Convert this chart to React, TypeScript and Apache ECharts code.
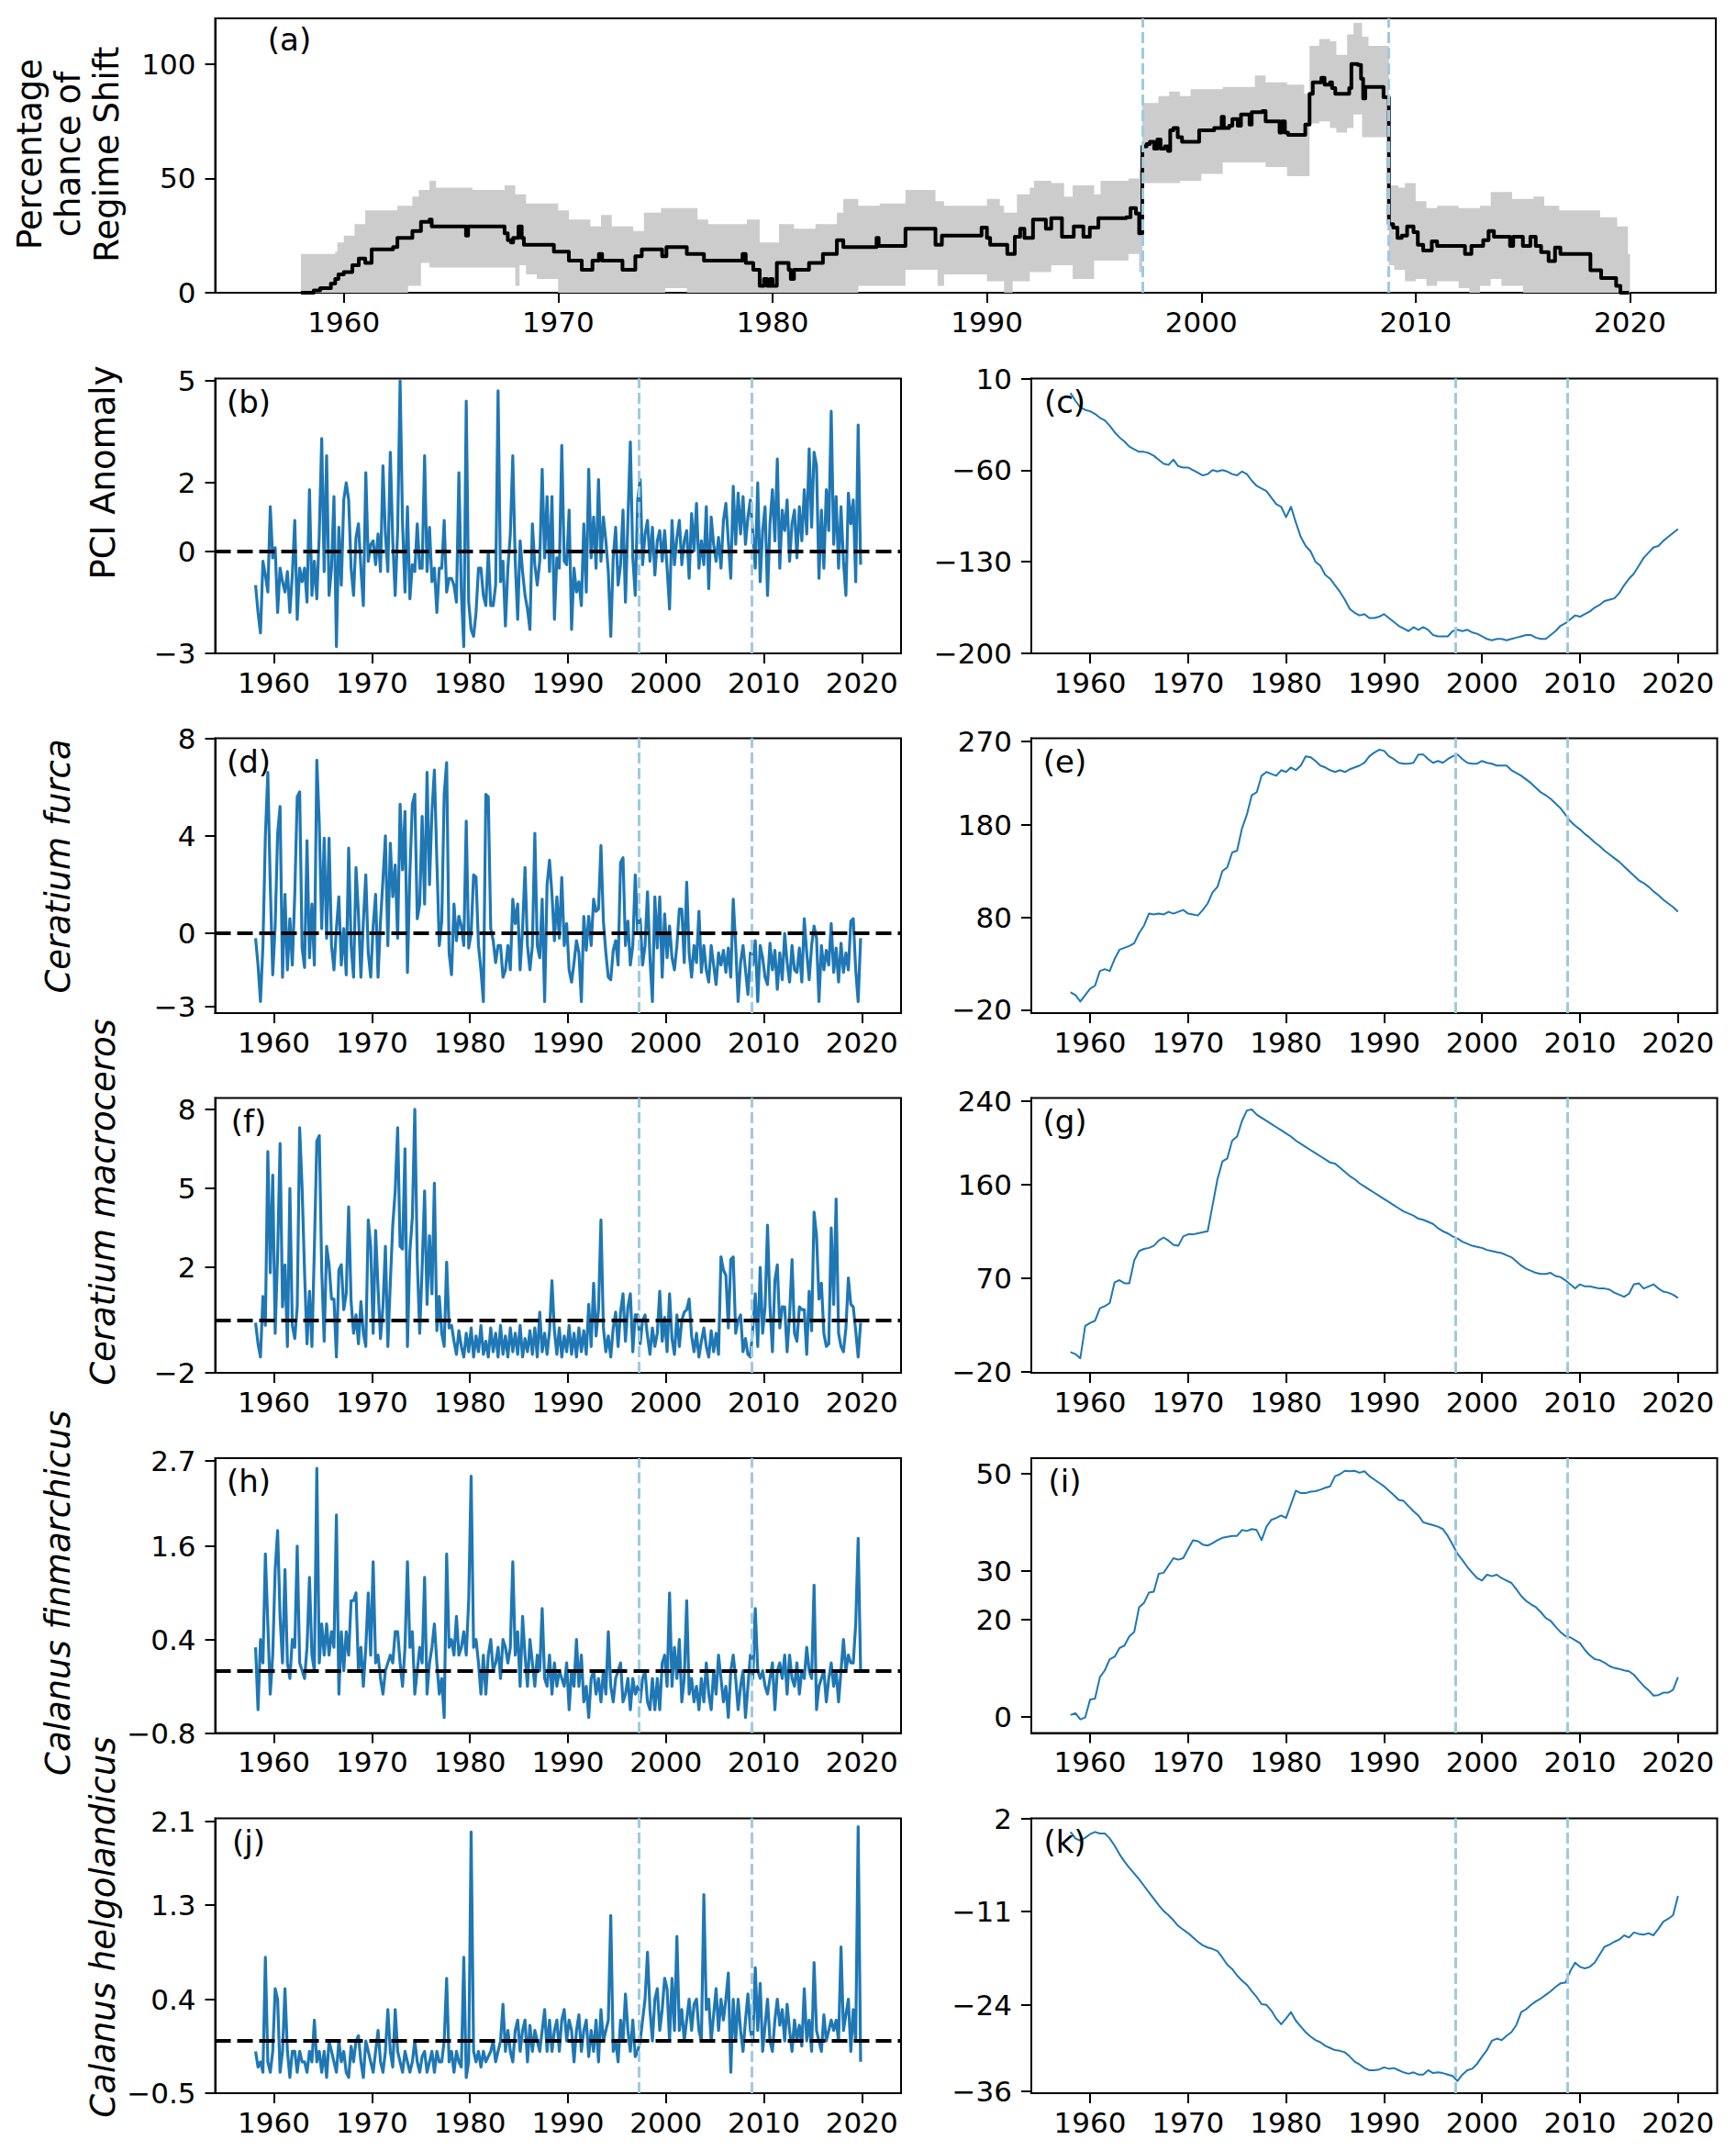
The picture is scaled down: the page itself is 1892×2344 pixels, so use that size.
import React, { useEffect, useRef } from "react";
import * as echarts from "echarts";

// ---------- shared ticks / markers ----------
const YEAR_TICKS = [1960, 1970, 1980, 1990, 2000, 2010, 2020];
const REGIME_SHIFTS = [1997.25, 2008.75];
const QUARTER_START = 1958.125;
const QUARTER_STEP = 0.25;
const HALF_START = 1958;
const HALF_STEP = 0.5;

// ---------- (a) percentage chance of regime shift: [year, value] change points ----------
const regimeShiftChance: [number, number][] = [
  [1958.0, 0], [1958.6, 1], [1958.9, 2], [1959.4, 4], [1959.6, 6], [1959.75, 8], [1960.0, 9], [1960.4, 12],
  [1960.7, 15], [1961.0, 13], [1961.3, 19], [1962.3, 20], [1962.5, 24], [1963.2, 27], [1963.6, 31], [1964.0, 32],
  [1964.1, 29], [1965.7, 25], [1965.8, 29], [1967.5, 26], [1967.65, 23], [1967.8, 22], [1967.9, 24], [1968.15, 29],
  [1968.3, 24], [1968.4, 21], [1969.8, 18], [1970.5, 14], [1971.1, 10], [1971.6, 14], [1971.9, 17], [1972.05, 14],
  [1973.0, 10], [1973.6, 16], [1973.9, 19], [1974.85, 16], [1975.05, 20], [1976.0, 17], [1976.8, 14], [1978.6, 17],
  [1978.75, 13], [1979.1, 10], [1979.4, 3], [1979.6, 6], [1979.75, 3], [1979.9, 6], [1980.0, 3], [1980.2, 13],
  [1980.75, 10], [1980.85, 6], [1981.0, 10], [1981.7, 13], [1982.35, 17], [1983.0, 23], [1983.3, 20], [1984.85, 24],
  [1984.95, 20.5], [1986.2, 28], [1987.6, 21], [1987.9, 25], [1989.75, 28.5], [1990.0, 24], [1990.15, 21], [1990.95, 17],
  [1991.3, 24.5], [1991.55, 28], [1991.75, 24], [1992.15, 32], [1992.75, 28], [1993.0, 32.6], [1993.5, 24.5], [1994.05, 29],
  [1994.5, 24.5], [1994.8, 28.5], [1995.2, 32.6], [1996.5, 33], [1996.7, 37], [1996.95, 34.6], [1997.1, 26], [1997.25, 64],
  [1997.45, 65], [1997.6, 66], [1997.8, 63], [1997.95, 67], [1998.1, 63], [1998.3, 64], [1998.45, 62], [1998.55, 71],
  [1998.7, 72], [1998.9, 68], [1999.1, 66], [1999.9, 71], [2000.6, 72], [2000.95, 77], [2001.05, 72], [2001.3, 73],
  [2001.45, 76], [2001.7, 73], [2001.85, 78], [2002.25, 73.5], [2002.35, 79], [2002.85, 79.5], [2003.0, 75], [2003.65, 70],
  [2003.75, 75], [2003.9, 70], [2004.05, 69], [2004.85, 73.5], [2005.05, 87], [2005.2, 92], [2005.6, 94], [2005.75, 91],
  [2006.0, 92], [2006.1, 89.5], [2006.25, 87], [2006.9, 89.5], [2007.0, 100], [2007.3, 99.6], [2007.45, 93.6], [2007.55, 85],
  [2007.65, 90], [2008.5, 85.5], [2008.75, 30], [2008.95, 28.5], [2009.15, 24], [2009.35, 25], [2009.6, 29], [2009.9, 26.5],
  [2010.1, 21], [2010.35, 18.5], [2010.75, 22.5], [2011.0, 20.5], [2012.3, 17], [2012.6, 20.5], [2013.15, 23], [2013.4, 27],
  [2013.65, 24.5], [2014.4, 20.5], [2014.55, 24.5], [2015.0, 20.5], [2015.35, 24.5], [2015.6, 20.5], [2015.85, 17.8], [2016.2, 13.8],
  [2016.5, 19.8], [2016.75, 17], [2018.15, 9.8], [2018.65, 6.4], [2019.35, 3], [2019.55, 0], [2019.95, 0],
];

const chanceUpper: [number, number][] = [
  [1958.0, 17], [1959.6, 18], [1959.7, 22], [1960.0, 25], [1960.5, 30], [1961.0, 36], [1962.5, 38], [1963.2, 42],
  [1963.5, 45], [1964.0, 49], [1964.3, 46], [1966.0, 45], [1967.5, 47], [1968.0, 43], [1968.5, 39], [1970.0, 36],
  [1970.5, 32], [1971.5, 29], [1972.0, 34], [1972.5, 29], [1973.5, 27], [1974.0, 35], [1974.8, 37], [1976.5, 32],
  [1977.0, 30], [1978.8, 32], [1979.4, 22], [1980.3, 30], [1981.0, 28], [1982.0, 30], [1983.0, 35], [1983.3, 41],
  [1984.0, 38], [1985.0, 39], [1986.2, 45], [1987.6, 40], [1988.0, 38], [1990.0, 41], [1990.6, 38], [1990.8, 35],
  [1991.4, 43], [1992.0, 46], [1992.2, 49], [1993.0, 48], [1993.6, 42], [1994.0, 47], [1995.0, 43], [1995.3, 49],
  [1996.6, 50], [1997.1, 54], [1997.25, 83], [1998.0, 86], [1998.5, 88], [1999.0, 86], [1999.5, 89], [2001.0, 90],
  [2002.5, 95], [2003.0, 92], [2004.0, 91], [2004.8, 87], [2005.05, 108], [2005.5, 111], [2006.0, 110], [2006.3, 104],
  [2006.8, 113], [2007.1, 118], [2007.5, 112], [2007.8, 108], [2008.75, 47], [2009.2, 46], [2009.5, 48], [2010.0, 40],
  [2010.5, 37], [2011.0, 38], [2012.0, 37], [2013.0, 38], [2013.5, 44], [2014.5, 41], [2015.5, 42], [2016.0, 38],
  [2016.7, 36], [2018.6, 33], [2019.4, 29], [2019.9, 17], [2020.0, 17],
];

const chanceLower: [number, number][] = [
  [1958.0, 0], [1963.0, 3], [1963.6, 13], [1964.0, 11], [1968.0, 3], [1968.2, 12], [1968.5, 8], [1969.0, 6],
  [1970.0, 0], [1975.0, 2], [1976.0, 0], [1984.0, 3], [1986.2, 10], [1987.7, 3], [1988.0, 8], [1990.0, 5],
  [1990.8, 0], [1991.2, 5], [1992.0, 9], [1993.0, 12], [1994.0, 6], [1995.0, 14], [1996.6, 17], [1997.1, 9],
  [1997.25, 48], [1999.0, 49], [2000.0, 52], [2001.0, 57], [2003.0, 55], [2004.0, 51], [2005.05, 74], [2005.5, 75],
  [2006.0, 72], [2006.3, 70], [2006.8, 72], [2007.1, 78], [2007.5, 68], [2008.75, 12], [2009.0, 10], [2009.5, 5],
  [2010.0, 6], [2010.5, 3], [2011.0, 5], [2012.0, 2], [2012.5, 0], [2013.0, 3], [2013.5, 6], [2014.0, 3],
  [2015.0, 0], [2020.0, 0],
];

// ---------- anomalies (quarterly, 1958 - 2019) ----------
const pciAnomaly = [
  -1.0, -1.8, -2.4, -0.3, -0.7, -1.2, 1.3, -0.2, 0.1, -1.8, -0.5, -0.9, -1.2, -0.6, -1.8, -0.7,
  0.9, -2.0, -0.5, -0.9, -0.5, -1.5, 1.8, -1.3, -0.3, -1.4, 0.5, 3.3, -0.6, 2.8, -1.3, -0.5,
  1.6, -2.8, 0.7, -1.0, 1.5, 2.0, 1.5, -0.5, -1.3, 0.4, 0.8, -0.5, -1.6, 2.3, -0.3, 0.2,
  0.3, -0.4, 0.5, -0.6, 2.5, 0.5, -0.6, 2.9, 0.3, -1.3, 0.6, 5.0, 0.8, -1.2, 1.3, -1.4,
  -0.4, -0.6, 0.8, -0.5, -0.5, 2.8, -0.6, 0.7, -0.9, -0.5, -1.8, -0.5, -0.5, 0.9, -1.2, -0.8,
  -0.8, -1.0, -1.5, 2.3, -1.2, -2.8, 4.4, -1.5, -2.3, -2.5, -1.8, -0.5, -0.5, -1.3, -1.6, 0.0,
  -1.6, -1.6, -1.0, 4.7, -0.9, -0.3, -2.2, -0.5, 0.5, 2.8, -0.3, -2.0, 0.3, -0.6, -1.3, -1.7,
  -2.3, 0.8, -0.4, -1.0, -0.3, 2.4, -0.2, 1.6, -0.6, 1.6, -2.0, -0.2, -0.5, 3.1, -0.3, -0.4,
  1.2, -2.3, -0.5, -1.2, -0.9, -1.6, 0.8, -1.2, 2.4, -0.2, 1.0, -0.5, 2.1, -0.3, 1.0, 0.3,
  -0.6, -2.5, -0.2, 0.7, -1.0, -0.4, 1.2, -1.5, 0.9, 3.2, -0.2, -1.3, 1.5, 2.1, -0.4, 0.5,
  0.9, -0.3, 0.7, -0.7, 0.3, 0.6, -0.3, 0.6, -0.5, -1.7, 0.9, -0.4, 0.4, 0.9, -0.4, 0.3,
  0.6, -0.8, 1.1, 0.0, 1.4, -0.5, 0.3, -0.4, 1.3, -1.1, 1.0, 0.2, -0.3, 0.4, -0.5, 0.9,
  1.4, 0.3, -0.8, 1.9, 0.2, 1.7, 0.5, 1.6, 0.2, 1.0, 1.5, 0.5, -0.5, 2.0, -0.9, 0.6,
  1.3, -1.3, 0.8, 1.8, 0.3, 2.7, -0.5, 1.2, 0.6, 1.5, -0.3, 0.8, 1.2, -0.2, 1.3, 0.3,
  1.8, 0.5, 3.0, 0.7, 2.9, 2.5, -0.8, 1.2, -0.5, 1.8, 0.6, 4.1, 0.2, 1.6, -0.5, 1.3,
  -0.3, -1.3, 1.7, 0.8, 1.5, -0.9, 3.7, -0.4,
];

const furcaAnomaly = [
  -0.2, -1.3, -2.8, -0.5, 4.0, 6.6, 2.0, -1.7, 0.3, 4.1, 5.2, -1.8, 1.6, -1.5, 0.6, -1.3,
  1.6, 5.6, 5.8, -0.6, -1.4, 3.8, -1.0, 1.2, -1.3, 7.1, 4.5, 0.2, 3.9, -0.2, 3.9, -0.5,
  -1.5, 0.2, 1.5, -1.3, 0.2, -1.7, 3.5, -0.5, -1.8, 2.7, 0.8, -1.8, 0.5, 2.4, -0.8, -1.8,
  0.3, 1.6, -1.8, 0.5, 2.2, 4.0, -0.5, 3.7, 1.5, 2.8, -0.2, 5.3, 2.6, 5.0, -1.6, 2.5,
  5.3, 5.7, 0.6, 1.2, 4.8, 1.2, 6.6, 2.0, 5.0, 6.7, 3.0, -0.5, 0.5, 5.7, 7.0, -0.8,
  -1.7, 1.2, -0.3, 0.7, 0.3, -0.5, 4.6, -0.6, 0.0, 2.4, 2.3, -0.5, -1.5, -2.8, 5.7, 5.6,
  0.2, -0.3, -1.2, -0.5, -0.5, -1.8, -1.5, -0.5, -1.5, 1.4, 0.4, 1.2, -1.5, 0.2, 2.7, -0.5,
  -1.5, -0.5, 4.1, -0.5, -1.0, 1.4, -2.8, 2.0, 3.0, 1.6, -0.3, 1.5, -0.2, 2.3, -0.5, 0.4,
  -1.5, -2.0, -1.2, -0.3, -0.8, -2.8, 0.7, -0.7, 0.7, -0.5, 1.4, 0.9, 1.0, 3.6, 0.5, -0.8,
  -1.8, -1.9, -0.7, -0.3, -1.3, 2.9, 3.1, -0.5, 0.5, -1.3, -0.5, 2.4, 0.0, 0.6, -1.3, -0.5,
  1.7, -1.0, -2.8, 1.5, -0.6, 1.5, -1.8, 0.8, -1.0, 0.3, -1.0, -1.5, -0.5, 1.0, 1.0, -1.2,
  2.1, -0.8, -1.8, -0.5, -1.2, 0.9, -1.6, -0.5, -1.5, -2.0, -0.5, -1.3, -2.1, -0.8, -1.3, -0.7,
  -1.6, -0.6, -1.8, 1.4, -0.5, -2.8, -1.2, -0.5, -1.5, -2.5, -0.8, -1.3, -0.3, -2.8, -0.5, -1.0,
  -1.8, -2.1, -0.4, -1.5, -0.7, -2.3, -0.8, -1.9, 0.0, -1.2, -2.0, -0.5, -1.5, -1.6, -0.6, -2.0,
  0.6, -0.8, -1.9, -0.5, 0.3, -0.2, -2.8, -0.5, -1.5, -0.7, -1.3, 0.4, -1.6, -0.6, -2.0, -0.4,
  -1.6, -0.8, -1.5, 0.5, 0.6, -1.5, -2.8, -0.2,
];

const macrocerosAnomaly = [
  -0.1, -0.9, -1.4, 0.9, -0.2, 6.4, 1.8, 5.5, -0.5, 2.5, 6.7, 0.5, 2.1, -1.0, 5.0, -0.2,
  -0.7, 0.5, 7.3, 5.0, 1.8, -0.9, 1.1, -1.0, 2.7, 6.8, 7.0, 1.9, -0.8, 2.8, 2.1, 0.8,
  0.8, -1.4, 1.9, 2.1, 0.4, 1.0, 4.3, 0.7, -0.5, 0.2, -0.9, 0.7, -0.5, -1.0, 3.8, 2.8,
  -0.5, 3.4, 1.2, -0.7, 0.5, 2.8, -1.0, 1.4, 3.6, 4.9, 7.3, 2.8, 2.7, 6.5, -1.0, 2.6,
  3.9, 8.0, 2.3, -0.5, 2.0, 4.9, 0.6, 3.2, 1.0, 5.2, -0.4, 0.9, -0.5, -1.0, 2.2, -0.3,
  -0.2, -0.8, -1.3, -0.4, -1.0, -1.4, -0.5, -1.2, -0.3, -1.4, -0.6, -1.2, -0.2, -1.3, -0.8, -1.4,
  -0.3, -1.2, -0.5, -1.4, -0.2, -1.3, -0.6, -1.4, -0.3, -1.2, -0.5, -1.3, -0.2, -1.4, -0.7, -1.2,
  -0.4, -1.3, -0.3, -1.4, 0.3, -1.2, -0.5, -1.3, -0.4, 1.5, -0.4, -1.3, -0.3, -1.4, -0.6, -1.2,
  -0.2, -1.3, -0.5, -1.4, -0.3, -1.2, -0.4, -1.3, 0.6, -1.0, 1.4, -0.6, 0.4, 3.8, -0.3, -1.2,
  -0.6, -1.4, -0.3, 0.3, -1.0, 0.3, 1.0, -0.8, 0.5, 1.0, -1.2, 0.2, 0.2, -0.9, 0.0, 0.2,
  -0.6, -1.3, -0.3, -1.0, -0.5, 1.1, -0.8, 0.1, -1.2, 1.0, -0.7, -1.3, 0.2, -1.0, 0.0, 0.3,
  0.4, 0.8, -0.6, -1.2, -0.5, -1.4, -0.8, -0.3, -1.0, -1.4, -0.4, -1.2, -0.5, -1.3, 2.4, 1.9,
  1.7, -0.3, 2.3, 2.4, -0.5, 0.0, 0.2, -1.2, -0.7, -1.3, -1.4, -0.3, 1.0, -1.0, 2.0, -0.5,
  0.5, 3.6, 0.5, -1.2, 1.5, 2.1, -0.3, 0.5, 0.5, -1.2, 0.2, 2.3, -0.5, -0.8, 0.5, 0.4,
  0.4, -1.3, 1.1, -0.4, 4.1, 3.2, 0.8, 1.4, -0.5, -1.0, -0.9, 3.5, 0.6, 4.6, -0.5, -1.0,
  -1.2, -0.3, 1.6, 0.6, 0.5, -0.4, -1.4, -0.1,
];

const finmarchicusAnomaly = [
  0.3, -0.5, 0.4, 0.1, 1.5, 0.6, -0.3, 0.2, 1.3, 1.8, 0.7, 0.1, 1.3, 0.1, -0.1, 0.4,
  0.3, 1.6, 0.1, 0.0, -0.1, 0.3, 1.2, 0.2, 0.0, 2.6, 0.1, 0.6, 0.2, 0.6, 0.2, 0.5,
  0.3, 2.0, -0.3, 0.5, 0.0, 0.5, 0.2, 0.9, 0.9, 1.0, 0.0, 0.3, -0.2, 0.3, 1.0, 0.2,
  1.4, 0.1, 0.2, -0.1, -0.3, 0.0, 0.1, 0.2, 0.1, 0.5, 0.5, 0.1, -0.2, 0.3, 1.4, 0.3,
  0.5, -0.3, 0.0, 0.3, 0.1, 1.2, -0.3, 0.1, 0.3, 0.6, 0.1, -0.3, -0.1, -0.6, 1.5, 0.3,
  0.4, 0.2, 0.7, 0.2, 0.3, 0.5, 0.2, 0.9, 2.5, 0.3, 0.4, 0.1, -0.3, 0.2, -0.3, 0.2,
  0.4, 0.0, 0.1, 0.3, -0.1, 0.4, 0.3, 0.1, 0.3, 1.4, 0.2, 0.5, -0.2, 0.7, 0.2, -0.2,
  0.4, 0.1, -0.2, 0.2, 0.0, 0.8, -0.1, -0.2, 0.2, -0.3, 0.1, -0.2, 0.0, -0.1, -0.2, 0.1,
  -0.5, 0.0, -0.2, 0.4, -0.2, 0.2, -0.4, -0.2, -0.6, -0.1, 0.0, -0.3, -0.1, -0.4, 0.0, -0.3,
  0.5, -0.2, -0.4, -0.1, 0.0, 0.1, -0.4, -0.3, -0.1, -0.5, -0.1, -0.3, -0.2, -0.4, -0.1, 0.0,
  -0.4, -0.5, -0.1, -0.5, -0.1, -0.5, 0.1, 0.2, -0.2, 1.0, -0.2, 0.3, -0.1, 0.4, -0.4, -0.1,
  0.9, -0.3, -0.1, -0.4, -0.2, -0.5, -0.1, -0.4, 0.1, -0.3, -0.5, 0.0, -0.3, 0.2, -0.1, -0.4,
  -0.2, -0.6, 0.0, 0.2, -0.1, -0.5, -0.2, 0.0, -0.6, -0.2, 0.2, -0.1, 0.8, 0.0, -0.1, 0.0,
  -0.2, -0.3, -0.1, 0.1, -0.5, 0.0, 0.1, -0.1, 0.2, -0.3, 0.2, -0.1, -0.2, 0.1, -0.3, 0.0,
  -0.1, 0.3, 0.0, -0.1, 1.1, -0.5, -0.2, -0.1, 0.0, -0.4, -0.1, 0.1, -0.2, 0.0, -0.4, 0.0,
  0.4, 0.0, 0.2, 0.1, 0.1, 0.6, 1.7, 0.0,
];

const helgolandicusAnomaly = [
  -0.1, -0.25, -0.2, -0.3, 0.8, -0.2, -0.3, -0.1, 0.5, 0.4, -0.3, -0.1, 0.5, -0.1, -0.35, -0.1,
  -0.1, -0.3, -0.1, -0.2, -0.2, -0.3, -0.1, -0.2, 0.2, -0.2, -0.1, -0.3, -0.1, -0.35, 0.0, -0.1,
  -0.2, -0.3, 0.0, -0.2, -0.1, -0.3, -0.35, -0.05, -0.2, 0.0, 0.05, -0.2, -0.35, 0.0, -0.1, -0.2,
  -0.3, -0.1, 0.1, -0.2, -0.3, -0.1, 0.3, -0.1, -0.25, 0.3, -0.1, -0.2, -0.3, -0.1, -0.2, -0.3,
  -0.2, 0.0, -0.2, -0.3, -0.15, -0.1, -0.3, -0.2, -0.1, -0.3, -0.1, -0.2, -0.2, 0.0, 0.6, -0.2,
  -0.1, -0.3, -0.1, -0.2, -0.25, 0.8, -0.35, -0.2, 2.0, -0.1, -0.2, -0.1, -0.25, -0.1, -0.2, -0.15,
  -0.1, 0.0, -0.2, -0.1, 0.0, 0.35, -0.1, 0.1, -0.1, -0.2, 0.1, 0.2, -0.1, 0.1, 0.2, -0.2,
  0.15, -0.1, 0.1, 0.0, -0.1, 0.1, 0.3, -0.1, 0.2, -0.1, 0.1, 0.2, -0.1, 0.2, 0.3, 0.0,
  0.2, 0.1, -0.2, 0.1, 0.25, -0.1, 0.1, 0.2, -0.15, 0.1, -0.1, 0.2, -0.2, 0.3, 0.0, 0.1,
  0.2, 1.2, -0.1, 0.0, -0.2, 0.2, 0.0, 0.45, 0.1, -0.1, 0.2, -0.15, -0.1, 0.0, 0.2, 0.4,
  0.85, 0.3, 0.0, 0.4, 0.5, 0.1, 0.3, 0.6, 0.5, 0.0, 0.6, 0.1, 1.0, 0.1, 0.3, 0.0,
  0.2, 0.4, 0.1, 0.35, 0.4, 0.1, 0.0, 1.4, 0.3, 0.4, 0.0, 0.25, 0.5, 0.1, 0.4, 0.2,
  0.4, 0.65, -0.3, 0.4, 0.0, 0.4, 0.1, -0.1, 0.2, 0.45, 0.1, 0.0, 0.7, 0.1, 0.55, -0.1,
  0.15, 0.4, 0.0, -0.1, 0.2, 0.4, 0.15, 0.3, 0.0, 0.35, 0.1, -0.1, 0.2, 0.0, 0.15, -0.05,
  0.5, 0.0, 0.2, -0.1, 0.75, 0.1, 0.0, -0.1, 0.25, 0.0, 0.1, 0.2, 0.1, 0.2, 0.0, 0.9,
  0.1, 0.25, 0.4, -0.1, 0.3, 0.0, 2.05, -0.2,
];

// ---------- cumulative sums (half-yearly, 1958.0 - 2020.0) ----------
const pciCumsum = [
  -1, -7, -12, -14, -15, -17, -20, -22, -26, -31, -35, -38, -42, -44, -46, -46,
  -47, -49, -52, -55, -56, -52, -57, -58, -58, -60, -62, -64, -63, -60, -61, -60,
  -61, -63, -64, -61, -63, -68, -72, -74, -76, -81, -86, -88, -96, -88, -100, -111,
  -118, -122, -130, -133, -140, -143, -148, -153, -159, -166, -169, -171, -170, -173, -173, -172,
  -170, -173, -176, -179, -181, -183, -180, -182, -180, -182, -186, -187, -187, -187, -183, -182,
  -183, -182, -184, -185, -187, -189, -190, -189, -189, -190, -189, -188, -187, -186, -186, -188,
  -189, -189, -186, -183, -179, -177, -174, -171, -172, -170, -168, -165, -163, -160, -159, -158,
  -154, -148, -143, -139, -133, -127, -123, -119, -118, -114, -111, -108, -105,
];

const furcaCumsum = [
  -1, -4, -11, -4, 3, 6, 22, 24, 22, 35, 45, 47, 49, 52, 63, 71,
  84, 83, 84, 83, 86, 84, 86, 88, 84, 83, 82, 88, 95, 107, 113, 130,
  134, 150, 152, 176, 191, 212, 215, 233, 237, 235, 233, 239, 237, 242, 239, 244,
  254, 253, 249, 244, 242, 239, 237, 239, 237, 240, 242, 244, 247, 254, 258, 261,
  260, 254, 251, 247, 246, 246, 247, 256, 256, 251, 247, 249, 247, 251, 254, 256,
  251, 247, 246, 246, 249, 247, 246, 244, 244, 244, 239, 236, 233, 229, 225, 220,
  215, 212, 208, 203, 198, 191, 184, 179, 175, 170, 166, 161, 157, 152, 148, 144,
  140, 135, 130, 125, 120, 117, 113, 108, 104, 99, 95, 91, 86,
];

const macrocerosCumsum = [
  -1, -3, -7, 24, 27, 29, 41, 43, 46, 66, 68, 65, 65, 87, 96, 98,
  99, 101, 106, 109, 106, 102, 101, 110, 112, 112, 113, 114, 115, 140, 165, 182,
  185, 202, 206, 221, 231, 232, 227, 224, 221, 218, 215, 212, 209, 206, 202, 199,
  196, 193, 190, 187, 184, 181, 180, 176, 172, 168, 165, 161, 158, 155, 152, 149,
  146, 143, 140, 137, 134, 132, 130, 127, 126, 124, 122, 118, 115, 113, 110, 108,
  105, 103, 101, 100, 99, 97, 96, 95, 94, 92, 90, 86, 82, 79, 77, 75,
  74, 74, 75, 72, 71, 68, 64, 60, 64, 62, 62, 61, 60, 60, 59, 56,
  54, 52, 55, 64, 65, 60, 62, 64, 60, 57, 56, 54, 51,
];

const finmarchicusCumsum = [
  0.3, 0.7, -0.6, -0.2, 3.5, 3.7, 8.1, 9.5, 11.8, 12.3, 14.1, 14.6, 16.5, 17.4, 22.5, 23.4,
  25.5, 25.7, 29.4, 29.6, 31.1, 32.6, 32.3, 32.6, 34.5, 36.3, 36.1, 35.4, 35.2, 35.7, 36.3, 36.8,
  37.0, 37.2, 37.2, 38.4, 38.2, 38.6, 38.4, 36.3, 39.1, 40.5, 40.9, 41.4, 40.9, 43.7, 46.5, 46.0,
  46.0, 46.3, 46.4, 46.7, 47.1, 47.4, 49.5, 49.9, 50.6, 50.5, 50.6, 50.2, 50.5, 49.5, 48.8, 48.1,
  47.4, 46.5, 45.6, 44.6, 44.4, 43.3, 42.3, 41.4, 40.0, 39.7, 39.4, 39.1, 38.6, 37.2, 35.4, 33.5,
  32.2, 30.8, 29.6, 28.5, 28.0, 29.2, 28.9, 29.2, 28.5, 28.0, 27.5, 26.2, 24.8, 23.8, 23.1, 22.5,
  21.5, 20.3, 19.7, 18.5, 17.4, 16.6, 16.3, 15.7, 15.1, 13.7, 12.6, 11.8, 11.6, 11.1, 10.4, 10.0,
  9.8, 9.5, 9.3, 8.6, 7.4, 6.3, 5.4, 4.3, 4.4, 4.9, 4.9, 5.5, 8.1,
];

const helgolandicusCumsum = [
  0.1, -0.8, -1.1, -0.7, -0.2, 0.1, -0.1, -0.1, -0.8, -1.8, -3.0, -4.0, -4.9, -5.7, -6.5, -7.4,
  -8.3, -9.2, -10.1, -10.9, -11.5, -12.2, -13.0, -13.5, -14.0, -14.6, -15.2, -15.7, -16.0, -16.2, -16.5, -17.4,
  -18.4, -19.0, -19.9, -20.6, -21.2, -22.1, -22.9, -23.9, -24.0, -24.8, -25.9, -26.7, -25.9, -25.0, -26.2, -27.0,
  -27.8, -28.4, -28.9, -29.2, -29.7, -30.0, -30.3, -30.4, -30.6, -31.2, -31.9, -32.3, -32.8, -33.1, -33.1, -33.0,
  -32.7, -32.9, -32.8, -33.1, -33.4, -33.6, -33.4, -33.7, -33.7, -33.1, -33.5, -33.4, -33.5, -33.7, -33.9, -34.6,
  -33.7, -33.1, -32.9, -32.2, -31.2, -30.3, -29.0, -28.7, -28.9, -28.3, -27.8, -26.8, -25.0, -24.6, -24.0, -23.5,
  -23.1, -22.6, -22.1, -21.5, -21.0, -20.9, -19.3, -18.1, -18.7, -18.9, -18.7, -18.1, -17.0, -15.9, -15.6, -15.2,
  -14.9, -14.3, -14.6, -13.9, -14.1, -14.2, -14.0, -14.3, -13.4, -12.4, -12.0, -11.5, -8.8,
];

// ---------- axis tick labels per panel ----------
const ticksB = [-3, 0, 2, 5];
const ticksC = [-200, -130, -60, 10];
const ticksD = [-3, 0, 4, 8];
const ticksE = [-20, 80, 180, 270];
const ticksF = [-2, 2, 5, 8];
const ticksG = [-20, 70, 160, 240];
const ticksH = [-0.8, 0.4, 1.6, 2.7];
const ticksI = [0, 20, 30, 50];
const ticksJ = [-0.5, 0.4, 1.3, 2.1];
const ticksK = [-36, -24, -11, 2];
const ticksA = [0, 50, 100];

// ---------- styling / layout ----------
const FONT = '"DejaVu Sans", "Liberation Sans", sans-serif';
const BLUE = "#1f77b4";
const SHIFT_COLOR = "#9ecae1";
const BAND_GREY = "#cccccc";
const TICK_FONT = 31;
const PANEL_LABEL_FONT = 34;
const YTITLE_FONT = 37;
const CHART_W = 1876;
const CHART_H = 2336;
const LEFT_X = 226.5;
const RIGHT_X = 1116;
const PANEL_W = 747.5;
const PANEL_H = 299.5;
const ROW_TOPS = [404.5, 796.5, 1188.5, 1581, 1973.5];
const TOP_RECT = { left: 226.5, top: 12, width: 1635.5, height: 299 };

function fmtTick(v: number): string {
  const r = Math.round(v * 100) / 100;
  if (r === 0) return "0";
  return String(r).replace("-", "\u2212");
}

function buildOption() {
  const grid: any[] = [];
  const xAxis: any[] = [];
  const yAxis: any[] = [];
  const series: any[] = [];
  const graphic: any[] = [];

  const addAxes = (rect: any, yMin: number, yMax: number, yTicks: number[]) => {
    const idx = grid.length;
    grid.push({
      left: rect.left, top: rect.top, width: rect.width, height: rect.height,
      show: true, borderColor: "#000", borderWidth: 2, backgroundColor: "transparent",
      containLabel: false, outerBoundsMode: "none",
    });
    xAxis.push({
      type: "value", gridIndex: idx, min: 1954, max: 2024,
      splitLine: { show: false },
      axisLine: { show: true, onZero: false, lineStyle: { color: "#000", width: 2 } },
      axisTick: { show: true, customValues: YEAR_TICKS, length: 11, lineStyle: { color: "#000", width: 2 } },
      axisLabel: {
        show: true, customValues: YEAR_TICKS, formatter: (v: number) => String(Math.round(v)),
        fontSize: TICK_FONT, color: "#000", fontFamily: FONT, margin: 16,
      },
    });
    yAxis.push({
      type: "value", gridIndex: idx, min: yMin, max: yMax,
      splitLine: { show: false },
      axisLine: { show: true, onZero: false, lineStyle: { color: "#000", width: 2 } },
      axisTick: { show: true, customValues: yTicks, length: 11, lineStyle: { color: "#000", width: 2 } },
      axisLabel: {
        show: true, customValues: yTicks, formatter: (v: number) => fmtTick(v),
        fontSize: TICK_FONT, color: "#000", fontFamily: FONT, margin: 21,
      },
    });
    return idx;
  };

  const markerSeries = (idx: number, withZero: boolean) => {
    const data: any[] = REGIME_SHIFTS.map((x) => ({
      xAxis: x, lineStyle: { color: SHIFT_COLOR, width: 3, type: [12, 5] },
    }));
    if (withZero) data.push({ yAxis: 0, lineStyle: { color: "#000", width: 4, type: [17, 7] } });
    return {
      type: "line", xAxisIndex: idx, yAxisIndex: idx, data: [], z: 5, silent: true,
      markLine: {
        symbol: ["none", "none"], silent: true, animation: false,
        label: { show: false }, emphasis: { disabled: true }, data,
      },
    };
  };

  const panelLabel = (text: string, x: number, y: number) => ({
    type: "text", x, y, silent: true, z: 20,
    style: {
      text, fontSize: PANEL_LABEL_FONT, fontFamily: FONT, fill: "#000",
      align: "center", verticalAlign: "middle", textAlign: "center", textVerticalAlign: "middle",
    },
  });

  const yTitle = (text: string, x: number, y: number, italic: boolean, lineHeight?: number) => ({
    type: "text", x, y, rotation: Math.PI / 2, silent: true, z: 20,
    style: {
      text, fontSize: YTITLE_FONT, fontFamily: FONT, fontStyle: italic ? "italic" : "normal",
      fill: "#000", lineHeight: lineHeight || YTITLE_FONT * 1.2,
      align: "center", verticalAlign: "middle", textAlign: "center", textVerticalAlign: "middle",
    },
  });

  // ----- panel (a) -----
  const a = addAxes(TOP_RECT, 0, 120, ticksA);
  series.push({
    type: "custom", xAxisIndex: a, yAxisIndex: a, silent: true, z: 1,
    data: [[chanceUpper[0][0], chanceLower[0][1]]],
    encode: { x: 0, y: 1 },
    renderItem: (_p: any, api: any) => {
      const pts: number[][] = [];
      for (let i = 0; i < chanceUpper.length; i++) {
        const [x, y] = chanceUpper[i];
        pts.push(api.coord([x, y]));
        if (i + 1 < chanceUpper.length) pts.push(api.coord([chanceUpper[i + 1][0], y]));
      }
      for (let i = chanceLower.length - 1; i >= 0; i--) {
        const [x, y] = chanceLower[i];
        if (i + 1 < chanceLower.length) pts.push(api.coord([chanceLower[i + 1][0], y]));
        pts.push(api.coord([x, y]));
      }
      return { type: "polygon", shape: { points: pts }, style: { fill: BAND_GREY } };
    },
  });
  series.push({
    type: "line", xAxisIndex: a, yAxisIndex: a, data: regimeShiftChance, step: "end",
    symbol: "none", showSymbol: false, silent: true, z: 3,
    lineStyle: { color: "#000", width: 4, join: "round" },
  });
  series.push(markerSeries(a, false));
  graphic.push(panelLabel("(a)", 307.5, 35));
  graphic.push(yTitle("Percentage\nchance of\nRegime Shift", 66, 160, false, 42));

  // ----- rows -----
  const rows = [
    { left: pciAnomaly, lt: ticksB, lmin: -3, lmax: 5.06, ll: "(b)", right: pciCumsum, rt: ticksC, rmin: -200, rmax: 10, rl: "(c)", title: "PCI Anomaly", italic: false, tx: 104 },
    { left: furcaAnomaly, lt: ticksD, lmin: -3.27, lmax: 8, ll: "(d)", right: furcaCumsum, rt: ticksE, rmin: -23.5, rmax: 273.5, rl: "(e)", title: "Ceratium furca", italic: true, tx: 55 },
    { left: macrocerosAnomaly, lt: ticksF, lmin: -2, lmax: 8.43, ll: "(f)", right: macrocerosCumsum, rt: ticksG, rmin: -21, rmax: 243, rl: "(g)", title: "Ceratium macroceros", italic: true, tx: 104 },
    { left: finmarchicusAnomaly, lt: ticksH, lmin: -0.8, lmax: 2.73, ll: "(h)", right: finmarchicusCumsum, rt: ticksI, rmin: -3.4, rmax: 53.2, rl: "(i)", title: "Calanus finmarchicus", italic: true, tx: 55 },
    { left: helgolandicusAnomaly, lt: ticksJ, lmin: -0.5, lmax: 2.13, ll: "(j)", right: helgolandicusCumsum, rt: ticksK, rmin: -36.3, rmax: 2, rl: "(k)", title: "Calanus helgolandicus", italic: true, tx: 104 },
  ];
  const titleY = [507, 936, 1302, 1728, 2092];

  rows.forEach((r, k) => {
    const top = ROW_TOPS[k];
    const li = addAxes({ left: LEFT_X, top, width: PANEL_W, height: PANEL_H }, r.lmin, r.lmax, r.lt);
    series.push({
      type: "line", xAxisIndex: li, yAxisIndex: li, symbol: "none", showSymbol: false, silent: true, z: 2,
      data: r.left.map((v, i) => [QUARTER_START + i * QUARTER_STEP, v]),
      lineStyle: { color: BLUE, width: 3.2, join: "round" },
    });
    series.push(markerSeries(li, true));
    graphic.push(panelLabel(r.ll, LEFT_X + 36.5, top + 25));

    const ri = addAxes({ left: RIGHT_X, top, width: PANEL_W, height: PANEL_H }, r.rmin, r.rmax, r.rt);
    series.push({
      type: "line", xAxisIndex: ri, yAxisIndex: ri, symbol: "none", showSymbol: false, silent: true, z: 2,
      data: r.right.map((v, i) => [HALF_START + i * HALF_STEP, v]),
      lineStyle: { color: BLUE, width: 2, join: "round" },
    });
    series.push(markerSeries(ri, false));
    graphic.push(panelLabel(r.rl, RIGHT_X + 36.5, top + 25));

    graphic.push(yTitle(r.title, r.tx, titleY[k], r.italic));
  });

  return {
    animation: false,
    backgroundColor: "#fff",
    textStyle: { fontFamily: FONT },
    grid, xAxis, yAxis, series,
    graphic: { elements: graphic },
  };
}

export default function App() {
  const ref = useRef<HTMLDivElement>(null);
  useEffect(() => {
    if (!ref.current) return;
    const chart = echarts.init(ref.current, null, { renderer: "svg" });
    chart.setOption(buildOption() as any);
    return () => chart.dispose();
  }, []);
  return <div ref={ref} style={{ width: CHART_W, height: CHART_H }} />;
}
